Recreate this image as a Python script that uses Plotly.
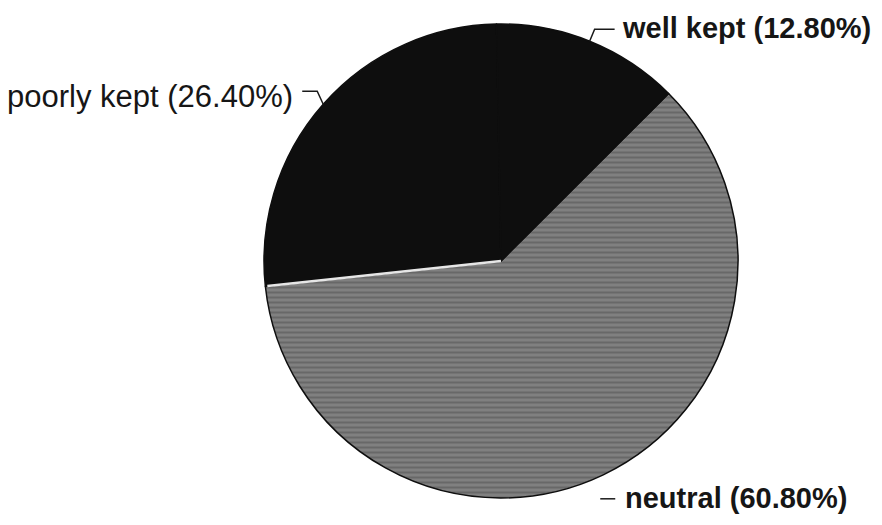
import math
import plotly.graph_objects as go

# Shares of respondents by how well the area is kept
labels = ["neutral", "poorly kept", "well kept"]
values = [60.80, 26.40, 12.80]
colors = ["#808080", "#0e0e0e", "#0e0e0e"]

W, H = 882, 525
CX, CY, R = 501, 261, 237          # pie centre and radius in pixels
START = 45                          # first slice starts at 45 deg clockwise from 12 o'clock

# label placement relative to the slice's rim point (pixels): elbow, leader end, text anchor
label_style = {
    "well kept":   dict(elbow=(5, -12), end=(25, -12), text=(30, -13), anchor="left",
                        family="Liberation Sans, Arial, sans-serif", size=29, bold=True),
    "poorly kept": dict(elbow=(-6, -13), end=(-21, -13), text=(-28, -8), anchor="right",
                        family="Liberation Sans, Arial, sans-serif", size=31, bold=False),
    "neutral":     dict(elbow=(-3, 24), end=(12, 24), text=(20, 23), anchor="left",
                        family="Liberation Sans, Arial, sans-serif", size=29, bold=True),
}


def px(x):
    return x / W


def py(y):
    return 1 - y / H


def rim(angle_deg, r=R):
    a = math.radians(angle_deg)
    return CX + r * math.sin(a), CY - r * math.cos(a)


fig = go.Figure(go.Pie(
    labels=labels,
    values=values,
    sort=False,
    direction="clockwise",
    rotation=START,
    marker=dict(
        colors=colors,
        line=dict(color="#0e0e0e", width=1.5),
        pattern=dict(shape=["-", "", ""], fillmode="overlay", fgcolor="#505050",
                     size=5, solidity=0.4),
    ),
    textinfo="none",
    hoverinfo="label+percent",
    domain=dict(x=[px(CX - R), px(CX + R)], y=[py(CY + R), py(CY - R)]),
))

total = sum(values)
shapes, annotations = [], []
angle = START
for lab, val in zip(labels, values):
    span = 360 * val / total
    mid = angle + span / 2
    ex, ey = rim(mid)
    st = label_style[lab]
    pts = [(ex, ey), (ex + st["elbow"][0], ey + st["elbow"][1]), (ex + st["end"][0], ey + st["end"][1])]
    if lab == "neutral":
        pts = pts[1:]
    path = "M " + " L ".join(f"{px(x):.5f},{py(y):.5f}" for x, y in pts)
    shapes.append(dict(type="path", xref="paper", yref="paper", path=path,
                       line=dict(color="#1a1a1a", width=1.5)))
    text = f"{lab} ({val:.2f}%)"
    if st["bold"]:
        text = f"<b>{text}</b>"
    annotations.append(dict(
        x=px(ex + st["text"][0]), y=py(ey + st["text"][1]), xref="paper", yref="paper",
        text=text, showarrow=False,
        xanchor=st["anchor"], yanchor="middle",
        font=dict(family=st["family"], size=st["size"], color="#161616"),
    ))
    angle += span

# light edge between the neutral and poorly kept slices
bx, by = rim(START + 360 * values[0] / total, R - 2)
shapes.append(dict(type="line", xref="paper", yref="paper",
                   x0=px(CX), y0=py(CY), x1=px(bx), y1=py(by),
                   line=dict(color="#e6e6e6", width=2.5)))

fig.update_layout(
    width=W, height=H,
    margin=dict(l=0, r=0, t=0, b=0),
    paper_bgcolor="white",
    plot_bgcolor="white",
    showlegend=False,
    shapes=shapes,
    annotations=annotations,
)

fig.write_html("out.html")
